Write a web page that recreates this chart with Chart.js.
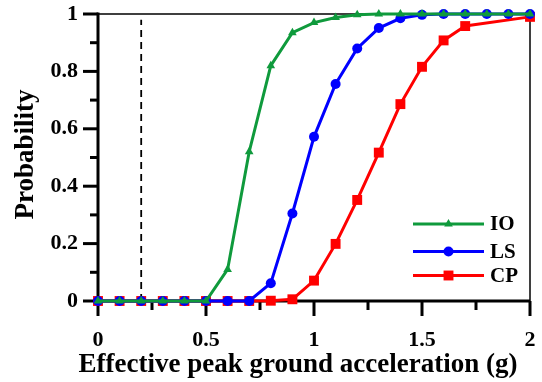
<!DOCTYPE html>
<html><head><meta charset="utf-8">
<script src="https://cdn.jsdelivr.net/npm/chart.js@4/dist/chart.umd.min.js"></script>
<style>html,body{margin:0;padding:0;background:#fff}canvas{display:block}</style>
</head><body>
<canvas id="c" width="542" height="382"></canvas>
<script>
// ---- data ----
const pga = [0,0.1,0.2,0.3,0.4,0.5,0.6,0.7,0.8,0.9,1.0,1.1,1.2,1.3,1.4,1.5,1.6,1.7,1.8,1.9,2.0];
const probIO = [0,0,0,0,0,0,0.11,0.52,0.82,0.935,0.97,0.988,0.997,1,1,1,1,1,1,1,1];
const probLS = [0,0,0,0,0,0,0,0,0.062,0.305,0.572,0.756,0.88,0.951,0.985,0.997,1,1,1,1,1];
const probCP = [0,0,0,0,0,0,0,0,0.001,0.006,0.071,0.199,0.352,0.517,0.686,0.816,0.908,0.958,null,null,0.99];
const seriesNames = ['IO','LS','CP'];
const refLineX = [0.2,0.2];
const refLineY = [0,0.98];
const xTickLabels = ['0','0.5','1','1.5','2'];
const yTickLabels = ['0','0.2','0.4','0.6','0.8','1'];
const xTitle = 'Effective peak ground acceleration (g)';
const yTitle = 'Probability';

const FONT = "'Liberation Serif','Times New Roman',serif";
const colors = ['#0f9a3c','#0000ff','#ff0000'];
const styles = ['triangle','circle','rect'];
const radii = [5,5,7];

function pts(ys){ return pga.map((x,i)=>({x:x,y:ys[i]})); }

const datasets = [probIO,probLS,probCP].map((ys,i)=>({
  label: seriesNames[i], data: pts(ys),
  borderColor: colors[i], backgroundColor: colors[i],
  borderWidth: 3, pointStyle: styles[i], pointRadius: radii[i],
  pointBorderWidth: 0, pointBackgroundColor: colors[i],
  spanGaps: true, clip: false, tension: 0
}));
datasets.push({
  label: 'ref', data: refLineX.map((x,i)=>({x:x,y:refLineY[i]})),
  borderColor:'#000', borderWidth:1.8, borderDash:[7,5], pointRadius:0, clip:false
});

const axesPlugin = {
  id:'axesPlugin',
  beforeDatasetsDraw(chart){
    const {ctx, chartArea:a, scales:{x,y}} = chart;
    ctx.save();
    ctx.strokeStyle='#000';
    ctx.lineWidth=1.5;
    ctx.beginPath(); ctx.moveTo(a.left,a.top); ctx.lineTo(a.right,a.top); ctx.lineTo(a.right,a.bottom); ctx.stroke();
    ctx.lineWidth=3;
    ctx.beginPath(); ctx.moveTo(a.left,a.top-1.5); ctx.lineTo(a.left,a.bottom); ctx.stroke();
    ctx.beginPath(); ctx.moveTo(a.left,a.bottom); ctx.lineTo(a.right,a.bottom); ctx.stroke();
    const yt = y.ticks.map(t=>t.value);
    yt.forEach((v,i)=>{
      const p = y.getPixelForValue(v);
      ctx.beginPath(); ctx.moveTo(a.left-15,p); ctx.lineTo(a.left,p); ctx.stroke();
      if(i<yt.length-1){
        const m = y.getPixelForValue((v+yt[i+1])/2);
        ctx.beginPath(); ctx.moveTo(a.left-8,m); ctx.lineTo(a.left,m); ctx.stroke();
      }
    });
    const xt = x.ticks.map(t=>t.value);
    xt.forEach((v,i)=>{
      const p = x.getPixelForValue(v);
      ctx.beginPath(); ctx.moveTo(p,a.bottom); ctx.lineTo(p,a.bottom+15); ctx.stroke();
      if(i<xt.length-1){
        const m = x.getPixelForValue((v+xt[i+1])/2);
        ctx.beginPath(); ctx.moveTo(m,a.bottom); ctx.lineTo(m,a.bottom+9); ctx.stroke();
      }
    });
    ctx.restore();
  },
  afterDraw(chart){
    const {ctx, chartArea:a} = chart;
    ctx.save();
    ctx.fillStyle='#000';
    ctx.font = "bold 27px "+FONT;
    ctx.textAlign='center'; ctx.textBaseline='alphabetic';
    ctx.fillText(xTitle, 298, 372);
    ctx.translate(33,(a.top+a.bottom)/2-3);
    ctx.rotate(-Math.PI/2);
    ctx.fillText(yTitle,0,0);
    ctx.restore();
    ctx.save();
    const rows=[224,251.5,275.5];
    for(let i=0;i<3;i++){
      const yy=rows[i];
      ctx.strokeStyle=colors[i]; ctx.lineWidth=3;
      ctx.beginPath(); ctx.moveTo(413,yy); ctx.lineTo(484,yy); ctx.stroke();
      ctx.fillStyle=colors[i];
      Chart.helpers.drawPoint(ctx,{pointStyle:styles[i],radius:radii[i],borderWidth:0,rotation:0},448.5,yy);
      ctx.fillStyle='#000';
      ctx.font="bold 21px "+FONT;
      ctx.textAlign='left'; ctx.textBaseline='middle';
      ctx.fillText(seriesNames[i],490,yy+1);
    }
    ctx.restore();
  }
};

new Chart(document.getElementById('c'),{
  type:'line',
  data:{datasets:datasets},
  options:{
    responsive:false, animation:false, devicePixelRatio:1,
    layout:{padding:{left:0,top:14,right:12,bottom:0}},
    plugins:{legend:{display:false},tooltip:{enabled:false}},
    scales:{
      x:{type:'linear',min:0,max:2,
        afterFit(s){s.height=81;s.paddingLeft=0;s.paddingRight=0;s.paddingTop=0;s.paddingBottom=0;},
        grid:{display:false,drawTicks:false},border:{display:false},
        ticks:{stepSize:0.5,padding:26,color:'#000',font:{family:FONT,size:22,weight:'bold'},
          callback:(v,i)=>xTickLabels[i]}},
      y:{type:'linear',min:0,max:1,
        afterFit(s){s.width=98;s.paddingLeft=0;s.paddingRight=0;s.paddingTop=0;s.paddingBottom=0;},
        grid:{display:false,drawTicks:false},border:{display:false},
        ticks:{stepSize:0.2,padding:20,color:'#000',font:{family:FONT,size:22,weight:'bold'},
          callback:(v,i)=>yTickLabels[i]}}
    }
  },
  plugins:[axesPlugin]
});
</script>
</body></html>
